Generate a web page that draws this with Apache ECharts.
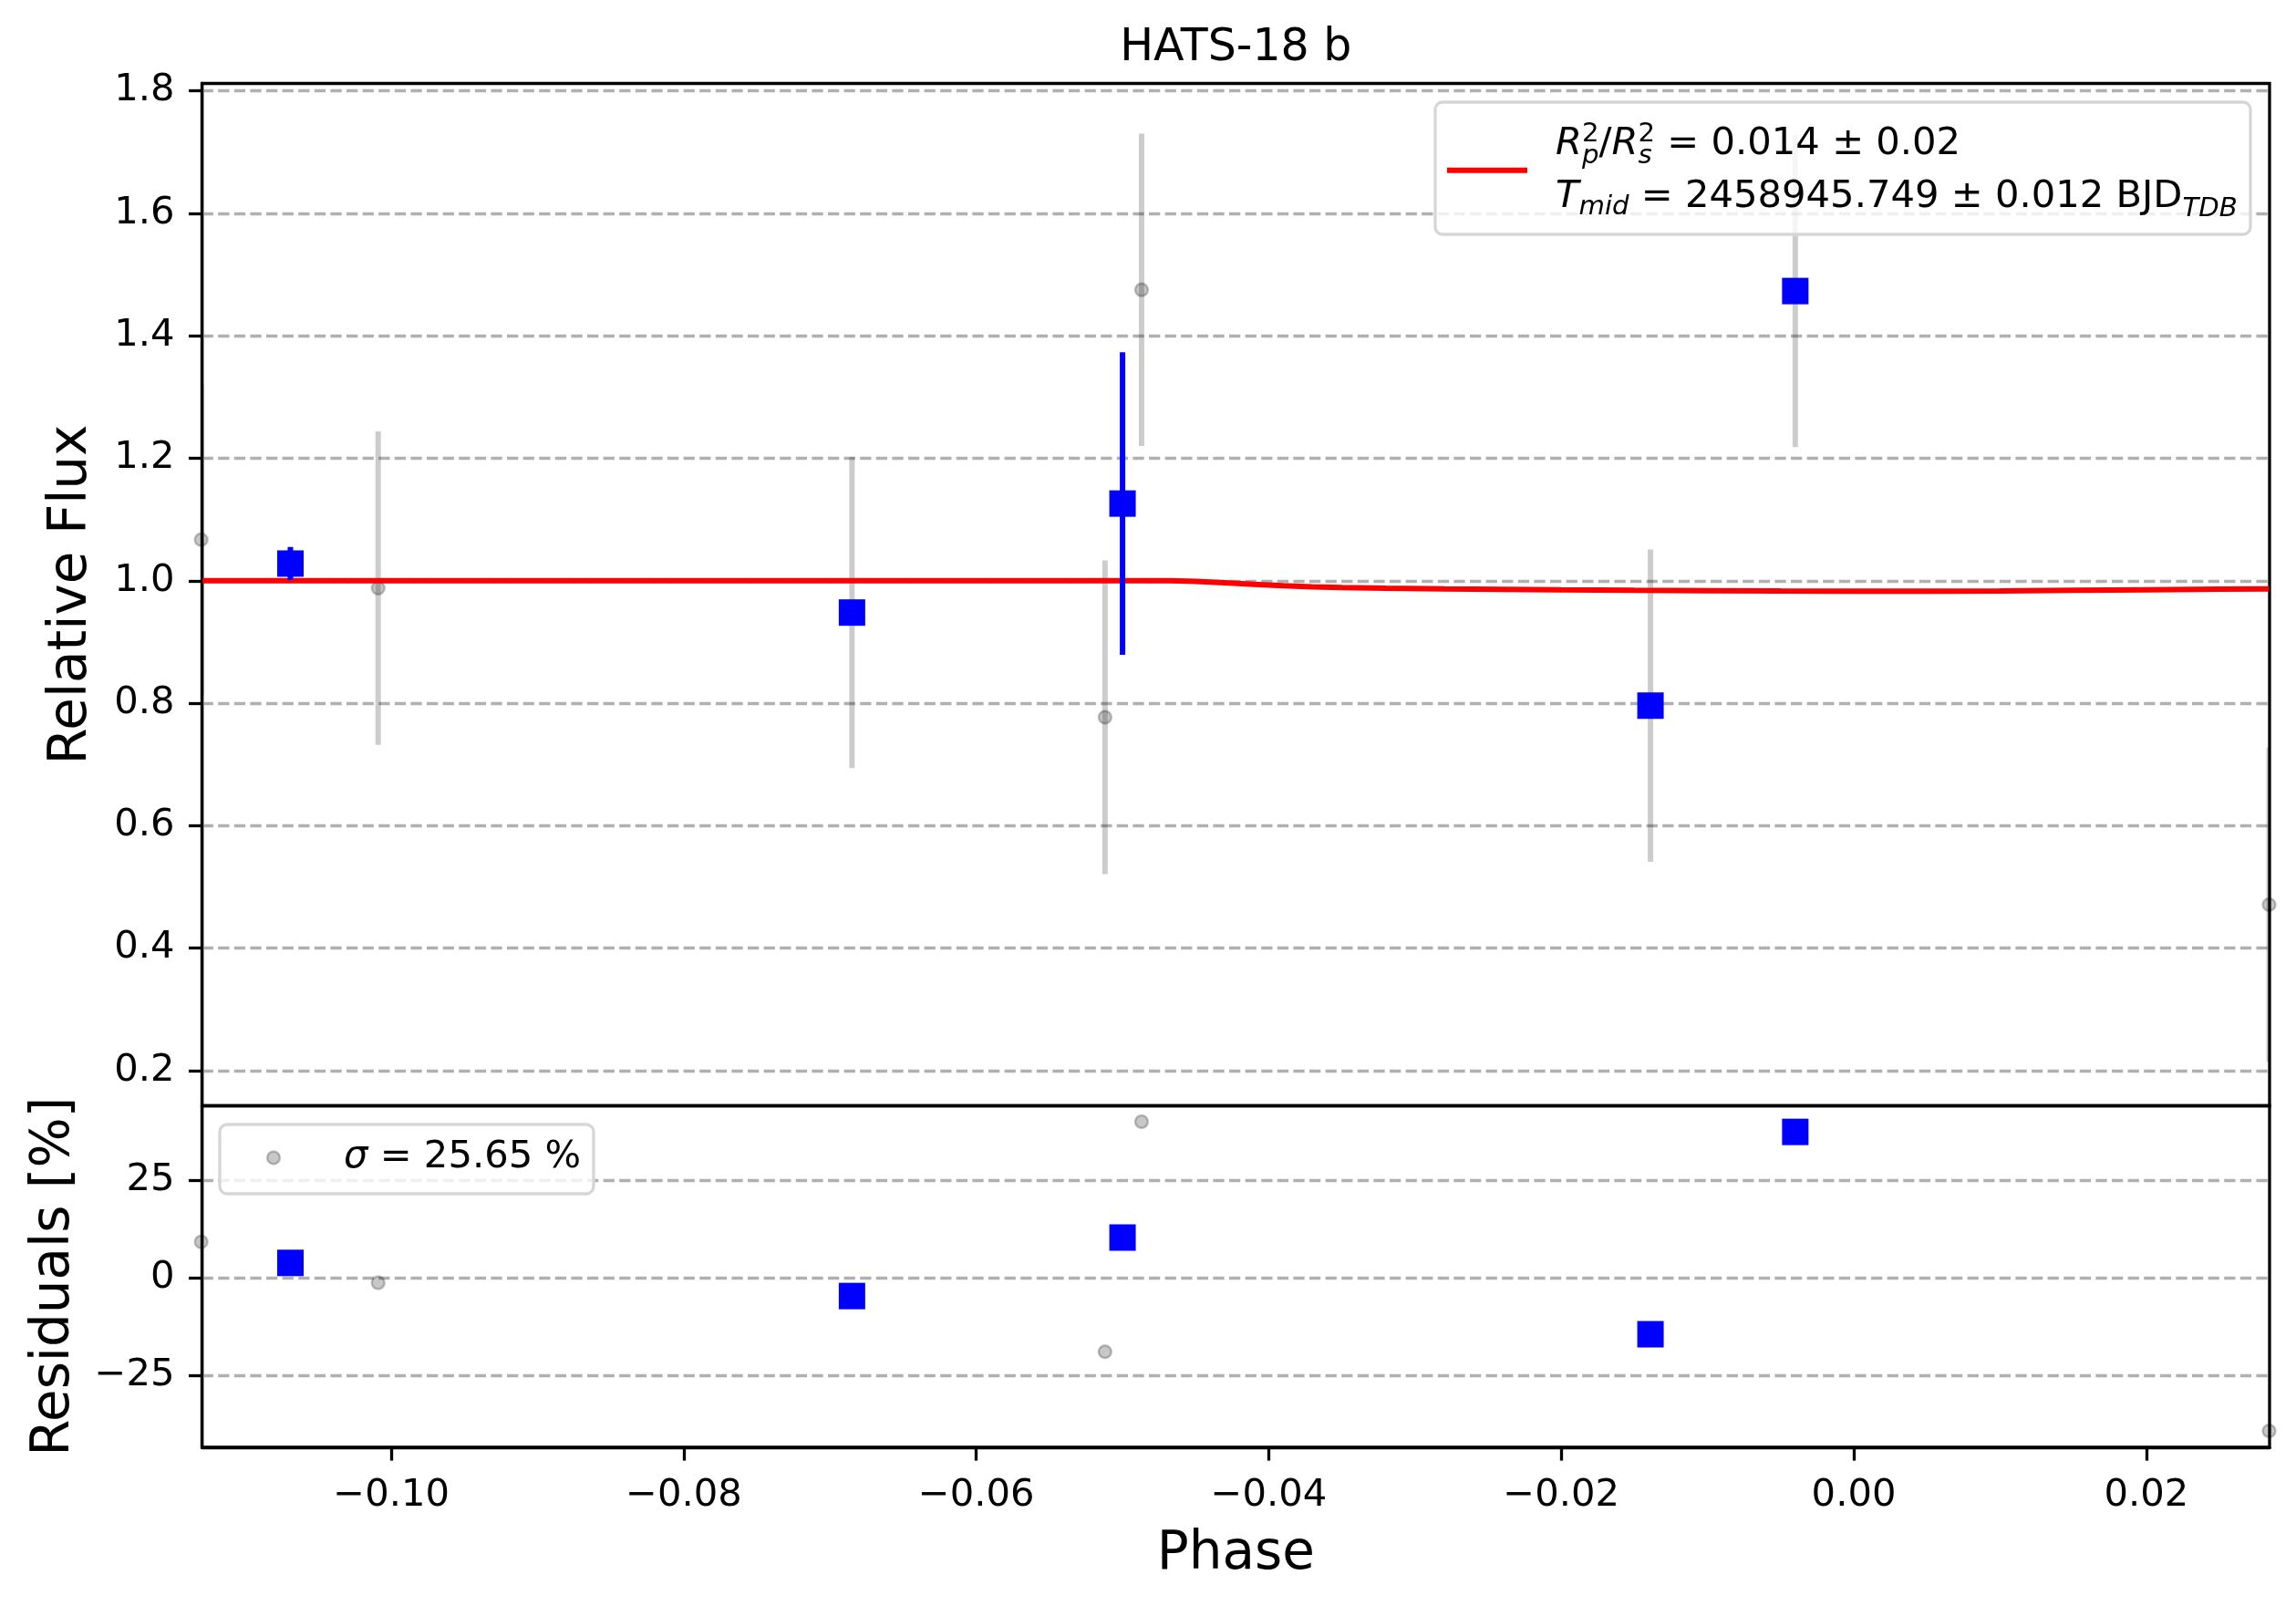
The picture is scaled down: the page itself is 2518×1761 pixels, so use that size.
<!DOCTYPE html>
<html>
<head>
<meta charset="utf-8">
<title>HATS-18 b</title>
<script src="https://cdn.jsdelivr.net/npm/echarts@6/dist/echarts.min.js"></script>
<style>
html, body { margin: 0; padding: 0; background: #fff; }
#chart { width: 2518px; height: 1761px; }
</style>
</head>
<body>
<div id="chart"></div>
<script>
// raw points (grey)
var rawPhase = [-0.1130, -0.1009, -0.0685, -0.0512, -0.0487, -0.0139, -0.0040, 0.0284];
var rawFlux  = [1.067, 0.988, 0.948, 0.777, 1.475, 0.796, 1.473, 0.471];
var rawErr   = [0.254, 0.256, 0.254, 0.256, 0.255, 0.255, 0.255, 0.257];
var rawResid = [9.2, -1.3, -4.7, -19.0, 40.0, -14.5, 37.4, -39.3];

// binned points (blue)
var binPhase = [-0.1069, -0.0685, -0.0500, -0.0139, -0.0040];
var binFlux  = [1.028, 0.948, 1.126, 0.796, 1.473];
var binErr   = [0.027, 0, 0.247, 0, 0];
var binResid = [3.8, -4.7, 10.3, -14.5, 37.4];

// transit model (red)
var modelPhase = [-0.1129, -0.0467, -0.0450, -0.0430, -0.0410, -0.0390, -0.0370, -0.0350, -0.0320,
                  -0.0280, -0.0240, -0.0200, -0.0150, -0.0100, -0.0050, 0.0000, 0.0050, 0.0100,
                  0.0150, 0.0200, 0.0250, 0.0284];
var modelFlux  = [1.0000, 1.0000, 0.9990, 0.9968, 0.9942, 0.9918, 0.9900, 0.9888, 0.9876,
                  0.9865, 0.9857, 0.9850, 0.9843, 0.9837, 0.9831, 0.9828, 0.9829, 0.9834,
                  0.9843, 0.9852, 0.9861, 0.9866];

var xTicks = [-0.10, -0.08, -0.06, -0.04, -0.02, 0.00, 0.02];
var fluxTicks = [0.2, 0.4, 0.6, 0.8, 1.0, 1.2, 1.4, 1.6, 1.8];
var residTicks = [-25, 0, 25];

var FONT = 'DejaVu Sans';
var FS = 41.7;
var X0 = 221.6, X1 = 2489, Y0 = 91.5, YM = 1212.5, Y1 = 1587;

function zip() {
    var cols = arguments;
    return cols[0].map(function (v, i) {
        return Array.prototype.map.call(cols, function (c) { return c[i]; });
    });
}

function minus(s) { return s.replace('-', '\u2212'); }

function errBars(color, width) {
    return function (params, api) {
        var x = api.value(0), y = api.value(1), e = api.value(2);
        if (!e) return;
        var a = api.coord([x, y + e]);
        var b = api.coord([x, y - e]);
        return {
            type: 'line',
            shape: { x1: a[0], y1: a[1], x2: b[0], y2: b[1] },
            style: { stroke: color, lineWidth: width }
        };
    };
}

// mathtext-ish legend lines laid out with canvas metrics
var ctx = document.createElement('canvas').getContext('2d');
function fontStr(size, it) { return (it ? 'italic ' : '') + size + 'px "' + FONT + '"'; }
function mathLine(pieces, x, base) {
    var out = [], hold = 0;
    pieces.forEach(function (p) {
        var size = FS * (p.s || 1);
        ctx.font = fontStr(size, p.it);
        var w = ctx.measureText(p.t).width;
        out.push({
            type: 'text', x: x, y: base + (p.dy || 0) - 0.34 * size, z: 101,
            style: {
                text: p.t, fill: '#000', fontFamily: FONT, fontSize: size,
                fontStyle: p.it ? 'italic' : 'normal', align: 'left', verticalAlign: 'middle'
            }
        });
        if (p.hold) { hold = w; }
        else { x += Math.max(w, hold); hold = 0; }
    });
    return out;
}

var legendParts = [
    { type: 'rect', shape: { x: 1574, y: 112, width: 894, height: 145, r: 8 }, z: 100,
      style: { fill: 'rgba(255,255,255,0.8)', stroke: '#d6d6d6', lineWidth: 3.3 } },
    { type: 'line', shape: { x1: 1587, y1: 186.7, x2: 1675, y2: 186.7 }, z: 101,
      style: { stroke: '#ff0000', lineWidth: 6 } },
    { type: 'rect', shape: { x: 241, y: 1233, width: 410, height: 76, r: 8 }, z: 100,
      style: { fill: 'rgba(255,255,255,0.8)', stroke: '#d6d6d6', lineWidth: 3.3 } },
    { type: 'circle', shape: { cx: 300, cy: 1269.5, r: 7 }, z: 101,
      style: { fill: 'rgba(0,0,0,0.22)', stroke: 'rgba(0,0,0,0.22)', lineWidth: 2.5 } }
].concat(
    mathLine([
        { t: 'R', it: true }, { t: '2', s: 0.7, dy: -15, hold: true }, { t: 'p', it: true, s: 0.7, dy: 9 },
        { t: '/' },
        { t: 'R', it: true }, { t: '2', s: 0.7, dy: -15, hold: true }, { t: 's', it: true, s: 0.7, dy: 9 },
        { t: ' = 0.014 \u00b1 0.02' }
    ], 1706, 172.5),
    mathLine([
        { t: 'T', it: true }, { t: 'mid', it: true, s: 0.7, dy: 7 },
        { t: ' = 2458945.749 \u00b1 0.012 BJD' },
        { t: 'TDB', it: true, s: 0.7, dy: 9 }
    ], 1706, 230.5),
    mathLine([
        { t: '\u03c3', it: true }, { t: ' = 25.65 %' }
    ], 377, 1283.3)
);

var tickStyle = { show: true, length: 14.6, inside: false, lineStyle: { color: '#000', width: 3.3 } };
var lineStyleAx = { show: true, onZero: false, lineStyle: { color: '#000', width: 3.3 } };
var gridDash = { show: true, lineStyle: { color: '#b0b0b0', width: 3.3, type: [12.3, 5.3] } };
var labelBase = { color: '#000', fontFamily: FONT, fontSize: FS };
var nameStyle = { color: '#000', fontFamily: FONT, fontSize: 58 };

var chart = echarts.init(document.getElementById('chart'), null, { renderer: 'canvas' });
chart.setOption({
    animation: false,
    backgroundColor: '#fff',
    title: {
        text: 'HATS-18 b', left: (X0 + X1) / 2, top: 29, textAlign: 'center', padding: 0,
        textStyle: { color: '#000', fontFamily: FONT, fontSize: 49, fontWeight: 'normal' }
    },
    grid: [
        { left: X0, top: Y0, width: X1 - X0, height: YM - Y0, show: true, borderColor: '#000', borderWidth: 3.3, backgroundColor: 'transparent' },
        { left: X0, top: YM, width: X1 - X0, height: Y1 - YM, show: true, borderColor: '#000', borderWidth: 3.3, backgroundColor: 'transparent' }
    ],
    xAxis: [
        { type: 'value', gridIndex: 0, min: -0.11294, max: 0.02843,
          axisLine: { show: false }, axisTick: { show: false }, axisLabel: { show: false }, splitLine: { show: false } },
        { type: 'value', gridIndex: 1, min: -0.11294, max: 0.02843,
          name: 'Phase', nameLocation: 'middle', nameGap: 89, nameTextStyle: nameStyle,
          axisLine: lineStyleAx,
          axisTick: Object.assign({ customValues: xTicks }, tickStyle),
          axisLabel: Object.assign({ customValues: xTicks, margin: 32,
              formatter: function (v) { return minus(v.toFixed(2)); } }, labelBase),
          splitLine: { show: false } }
    ],
    yAxis: [
        { type: 'value', gridIndex: 0, min: 0.1426, max: 1.812,
          name: 'Relative Flux', nameLocation: 'middle', nameGap: 114, nameRotate: 90, nameTextStyle: nameStyle,
          axisLine: lineStyleAx,
          axisTick: Object.assign({ customValues: fluxTicks }, tickStyle),
          axisLabel: Object.assign({ customValues: fluxTicks, margin: 30,
              formatter: function (v) { return v.toFixed(1); } }, labelBase),
          splitLine: gridDash },
        { type: 'value', gridIndex: 1, min: -43.5, max: 44.1,
          name: 'Residuals [%]', nameLocation: 'middle', nameGap: 133, nameRotate: 90, nameTextStyle: nameStyle,
          axisLine: lineStyleAx,
          axisTick: Object.assign({ customValues: residTicks }, tickStyle),
          axisLabel: Object.assign({ customValues: residTicks, margin: 30,
              formatter: function (v) { return minus(String(Math.round(v))); } }, labelBase),
          splitLine: gridDash }
    ],
    graphic: { elements: legendParts },
    series: [
        { type: 'custom', xAxisIndex: 0, yAxisIndex: 0, z: 2, clip: true, silent: true,
          renderItem: errBars('rgba(0,0,0,0.2)', 6),
          encode: { x: 0, y: 1 }, data: zip(rawPhase, rawFlux, rawErr) },
        { type: 'scatter', xAxisIndex: 0, yAxisIndex: 0, z: 3, silent: true, clip: false,
          symbol: 'circle', symbolSize: 14,
          itemStyle: { color: 'rgba(0,0,0,0.22)', borderColor: 'rgba(0,0,0,0.22)', borderWidth: 2.5, opacity: 1 },
          data: zip(rawPhase, rawFlux) },
        { type: 'line', xAxisIndex: 0, yAxisIndex: 0, z: 4, silent: true,
          showSymbol: false, symbol: 'none',
          lineStyle: { color: '#ff0000', width: 6 },
          data: zip(modelPhase, modelFlux) },
        { type: 'custom', xAxisIndex: 0, yAxisIndex: 0, z: 5, clip: true, silent: true,
          renderItem: errBars('#0000ff', 6),
          encode: { x: 0, y: 1 }, data: zip(binPhase, binFlux, binErr) },
        { type: 'scatter', xAxisIndex: 0, yAxisIndex: 0, z: 6, silent: true,
          symbol: 'rect', symbolSize: 29,
          itemStyle: { color: '#0000ff', opacity: 1 },
          data: zip(binPhase, binFlux) },
        { type: 'scatter', xAxisIndex: 1, yAxisIndex: 1, z: 3, silent: true, clip: false,
          symbol: 'circle', symbolSize: 14,
          itemStyle: { color: 'rgba(0,0,0,0.22)', borderColor: 'rgba(0,0,0,0.22)', borderWidth: 2.5, opacity: 1 },
          data: zip(rawPhase, rawResid) },
        { type: 'scatter', xAxisIndex: 1, yAxisIndex: 1, z: 6, silent: true,
          symbol: 'rect', symbolSize: 29,
          itemStyle: { color: '#0000ff', opacity: 1 },
          data: zip(binPhase, binResid) }
    ]
});
</script>
</body>
</html>
